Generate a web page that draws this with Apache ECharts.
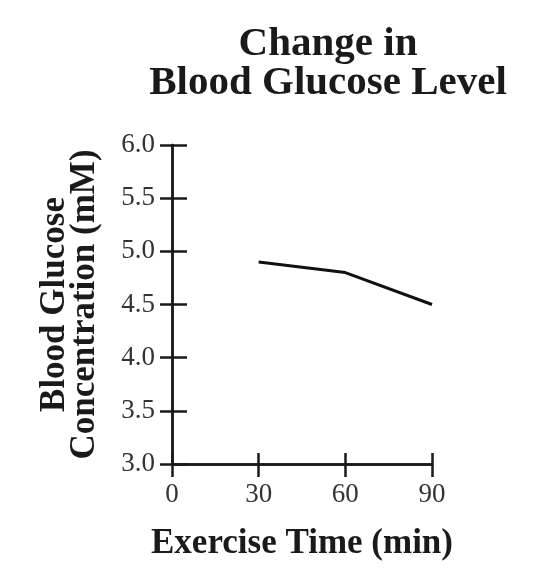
<!DOCTYPE html>
<html>
<head>
<meta charset="utf-8">
<script src="https://cdn.jsdelivr.net/npm/echarts@6/dist/echarts.min.js"></script>
<style>html,body{margin:0;padding:0;background:#fff}#c{width:540px;height:576px}</style>
</head>
<body>
<div id="c"></div>
<script>
var times = [30, 60, 90];
var glucose = [4.9, 4.8, 4.5];
var xTicks = [0, 30, 60, 90];
var yTicks = [3.0, 3.5, 4.0, 4.5, 5.0, 5.5, 6.0];

var serif = '"Liberation Serif", "Times New Roman", serif';
var ink = '#1a1a1a';
var chart = echarts.init(document.getElementById('c'));
var data = times.map(function (t, i) { return [t, glucose[i]]; });

var gridTop = 145, gridBottom = 112, H = 576;
var plotH = H - gridTop - gridBottom;

function xAx(second) {
  return {
    type: 'value', min: 0, max: 90, interval: 30,
    position: second ? 'top' : 'bottom', offset: second ? -plotH : 0,
    name: second ? '' : 'Exercise Time (min)', nameLocation: 'middle', nameGap: 62,
    nameTextStyle: { fontFamily: serif, fontWeight: 'bold', fontSize: 35, color: ink },
    axisLine: { show: true, onZero: false, lineStyle: { color: ink, width: 2.5 } },
    axisTick: { show: true, inside: false, length: second ? 11 : 13, lineStyle: { color: ink, width: 2.5 } },
    axisLabel: { show: !second, fontFamily: serif, fontSize: 27, color: '#333', margin: 17,
      formatter: function (v) { return xTicks.indexOf(v) >= 0 ? String(v) : ''; } },
    splitLine: { show: false }
  };
}
function yAx(inside, show) {
  return {
    type: 'value', min: 3, max: 6, interval: 0.5, position: 'left', offset: 0,
    name: show ? 'Blood Glucose\nConcentration (mM)' : '', nameLocation: 'middle', nameGap: 72,
    nameTextStyle: { fontFamily: serif, fontWeight: 'bold', fontSize: 35, color: ink, lineHeight: 30 },
    axisLine: { show: true, onZero: false, lineStyle: { color: ink, width: 2.5 } },
    axisTick: { show: true, inside: inside, length: inside ? 15 : 12, lineStyle: { color: ink, width: 2.5 } },
    axisLabel: { show: show, fontFamily: serif, fontSize: 27, color: '#333', margin: 17,
      formatter: function (v) { return yTicks.indexOf(v) >= 0 ? v.toFixed(1) : ''; } },
    splitLine: { show: false }
  };
}

chart.setOption({
  animation: false,
  backgroundColor: '#fff',
  title: {
    text: 'Change in\nBlood Glucose Level',
    left: 323, top: 20, textAlign: 'center',
    textStyle: { fontFamily: serif, fontWeight: 'bold', fontSize: 41, color: ink, lineHeight: 39 }
  },
  grid: { left: 172, right: 108, top: gridTop, bottom: gridBottom },
  xAxis: [xAx(false), xAx(true)],
  yAxis: [yAx(false, true), yAx(true, false)],
  series: [{
    type: 'line', xAxisIndex: 0, yAxisIndex: 0, data: data, symbol: 'none',
    lineStyle: { color: '#111', width: 3 }
  }]
});
</script>
</body>
</html>
